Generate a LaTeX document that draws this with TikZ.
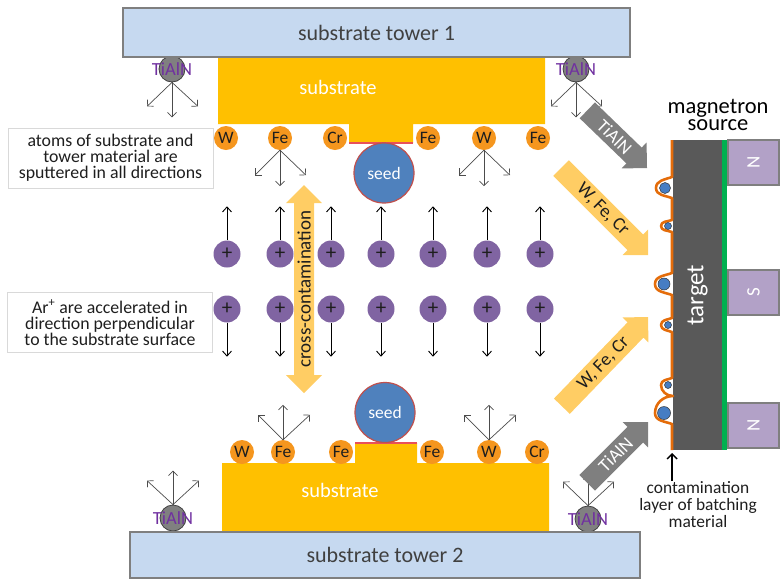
\documentclass[tikz,border=0pt]{standalone}
\usepackage{fontspec}
\setmainfont{Carlito}
\usetikzlibrary{arrows.meta}

\definecolor{towerfill}{RGB}{198,217,240}
\definecolor{towerline}{RGB}{127,127,127}
\definecolor{txtgray}{RGB}{64,64,64}
\definecolor{txt}{RGB}{30,30,30}
\definecolor{subst}{RGB}{255,192,0}
\definecolor{atomc}{RGB}{245,150,30}
\definecolor{ionc}{RGB}{128,100,162}
\definecolor{seedc}{RGB}{79,129,189}
\definecolor{seedline}{RGB}{192,80,77}
\definecolor{interface}{RGB}{232,80,90}
\definecolor{tialnc}{RGB}{128,128,128}
\definecolor{tialntext}{RGB}{112,48,160}
\definecolor{fluxc}{RGB}{255,205,100}
\definecolor{grayflux}{RGB}{127,127,127}
\definecolor{targetc}{RGB}{89,89,89}
\definecolor{backplate}{RGB}{0,176,80}
\definecolor{contc}{RGB}{228,108,10}
\definecolor{magnetc}{RGB}{178,161,199}
\definecolor{blobc}{RGB}{70,125,195}

\newcommand\fsz[2]{\fontsize{#1}{#2}\selectfont}

\begin{document}
\begin{tikzpicture}[x=1pt,y=-1pt,
  tower/.style={draw=towerline,line width=2pt,fill=towerfill,text=txtgray,font=\fsz{22}{24}},
  atom/.style={circle,fill=atomc,minimum size=24pt,inner sep=0pt,text=txt,font=\fsz{17.5}{17}},
  ion/.style={circle,fill=ionc,minimum size=27pt,inner sep=0pt,text=txt,font=\fsz{21}{21}},
  seed/.style={circle,fill=seedc,draw=seedline,line width=1.2pt,minimum size=60pt,inner sep=0pt,text=white,font=\fsz{17.5}{17}},
  tialn/.style={circle,fill=tialnc,draw=black!75,line width=0.8pt,minimum size=26pt,inner sep=0pt},
  tialnlabel/.style={text=tialntext,font=\fsz{18.5}{18},inner sep=0pt},
  spray/.style={draw=black!70,line width=0.7pt,-{Straight Barb[length=4.5pt,width=9pt]}},
  iondrift/.style={draw=black,line width=0.9pt,-{Straight Barb[length=5pt,width=9pt]}},
  infobox/.style={draw=black!15,line width=1pt,fill=white,minimum width=205pt,minimum height=60pt,align=center,inner sep=2pt,text=txt,font=\fsz{17.8}{16}},
  magnet/.style={rotate=90,fill=magnetc,draw=towerline,line width=2pt,minimum width=45pt,minimum height=51pt,inner sep=0pt,text=white,font=\fsz{19}{19}},
  fluxlabel/.style={text=txt,font=\fsz{18.5}{18},inner sep=0pt},
  blob/.style={circle,fill=blobc,draw=black!80,line width=0.5pt,inner sep=0pt},
]
\useasboundingbox (0,0) rectangle (783,582);

% ---------- TiAlN batching particles on the towers (behind the towers)
\node[tialn] (tA) at (172,69) {};
\node[tialn] (tB) at (576,69) {};
\node[tialn] (tC) at (173,518) {};
\node[tialn] (tD) at (588,519) {};

% ---------- substrates
\fill[subst] (218,57) -- (545,57) -- (545,124) -- (413,124) -- (413,143)
  -- (349,143) -- (349,124) -- (218,124) -- cycle;
\fill[subst] (222,463) -- (355,463) -- (355,443) -- (417,443) -- (417,463)
  -- (549,463) -- (549,532) -- (222,532) -- cycle;
\draw[interface,line width=2.5pt] (349,143) -- (413,143);
\draw[interface,line width=2.5pt] (355,443) -- (417,443);
\node[text=white,font=\fsz{20.5}{20}] (subA) at (338,87) {substrate};
\node[text=white,font=\fsz{20.5}{20}] (subB) at (340,490) {substrate};

% ---------- substrate towers
\node[tower,minimum width=507pt,minimum height=49pt] (towerA) at (376.5,32.5) {substrate tower 1};
\node[tower,minimum width=510pt,minimum height=46pt] (towerB) at (385,555) {substrate tower 2};

% TiAlN labels
\foreach \t in {tA,tB,tC,tD}
  \node[tialnlabel] (\t-lbl) at (\t) {TiAlN};

% sputtering from the tower particles
\draw[spray] (tA.south) -- ++(-25,24);
\draw[spray] (tA.south) -- ++(0,35);
\draw[spray] (tA.south) -- ++(26,24);
\draw[spray] (tB.south) -- ++(-25,24);
\draw[spray] (tB.south) -- ++(0,35);
\draw[spray] (tB.south) -- ++(26,24);
\draw[spray] (tC.north) -- ++(-26,-24);
\draw[spray] (tC.north) -- ++(0,-34);
\draw[spray] (tC.north) -- ++(26,-24);
\draw[spray] (tD.north) -- ++(-25,-24);
\draw[spray] (tD.north) -- ++(0,-31);
\draw[spray] (tD.north) -- ++(26,-24);

% ---------- seeds
\node[seed] (seedA) at (384,173) {seed};
\node[seed] (seedB) at (385,412.5) {seed};

% ---------- sputtered atoms, upper substrate
\node[atom] (a1) at (226,138) {W};
\node[atom] (a2) at (280,138) {Fe};
\node[atom] (a3) at (335,138) {Cr};
\node[atom] (a4) at (428,138) {Fe};
\node[atom] (a5) at (484,138) {W};
\node[atom] (a6) at (538,138) {Fe};
% lower substrate
\node[atom] (b1) at (242,452) {W};
\node[atom] (b2) at (283,452) {Fe};
\node[atom] (b3) at (341,452) {Fe};
\node[atom] (b4) at (432,452) {Fe};
\node[atom] (b5) at (489,452) {W};
\node[atom] (b6) at (537,452) {Cr};

\foreach \a in {a2,a5}{
  \draw[spray] (\a.south) -- ++(-25,25);
  \draw[spray] (\a.south) -- ++(0,36);
  \draw[spray] (\a.south) -- ++(26,25);
}
\foreach \a in {b2,b5}{
  \draw[spray] (\a.north) -- ++(-25,-25);
  \draw[spray] (\a.north) -- ++(0,-35);
  \draw[spray] (\a.north) -- ++(27,-25);
}

% ---------- cross-contamination double arrow
\fill[fluxc] (304,185) -- (322,203) -- (314,203) -- (314,375) -- (322,375)
  -- (304,393) -- (286,375) -- (294,375) -- (294,203) -- (286,203) -- cycle;
\node[rotate=90,text=txt,font=\fsz{19}{19},inner sep=0pt] (cross) at (304,289) {cross-contamination};

% ---------- Ar+ ions
\foreach \x [count=\i] in {227,280,331,381,433,487,540}{
  \node[ion] (up\i) at (\x,254) {+};
  \node[ion] (dn\i) at (\x,309) {+};
  \draw[iondrift] (up\i.north) -- ++(0,-34);
  \draw[iondrift] (dn\i.south) -- ++(0,34);
}

% ---------- explanatory boxes
\node[infobox] (boxA) at (110.5,158) {atoms of substrate and\\tower material are\\sputtered in all directions};
\node[infobox] (boxB) at (110,322.5) {Ar\textsuperscript{+} are accelerated in\\direction perpendicular\\to the substrate surface};

% ---------- particle fluxes towards the target
\begin{scope}[shift={(647,168)},rotate=-44]
  \fill[grayflux] (-83,-11) -- (-18,-11) -- (-18,-18) -- (0,0) -- (-18,18) -- (-18,11) -- (-83,11) -- cycle;
  \node[rotate=-44,text=white,font=\fsz{18.5}{18},inner sep=0pt] (fluxA) at (-45,0) {TiAlN};
\end{scope}
\begin{scope}[shift={(648,255)},rotate=-45]
  \fill[fluxc] (-123,-11) -- (-18,-11) -- (-18,-18) -- (0,0) -- (-18,18) -- (-18,11) -- (-123,11) -- cycle;
  \node[fluxlabel,rotate=-45] (fluxB) at (-64,0) {W, Fe, Cr};
\end{scope}
\begin{scope}[shift={(648,317)},rotate=46]
  \fill[fluxc] (-124,-11) -- (-18,-11) -- (-18,-18) -- (0,0) -- (-18,18) -- (-18,11) -- (-124,11) -- cycle;
  \node[fluxlabel,rotate=46] (fluxC) at (-64,0) {W, Fe, Cr};
\end{scope}
\begin{scope}[shift={(648,422)},rotate=45]
  \fill[grayflux] (-86,-11) -- (-18,-11) -- (-18,-18) -- (0,0) -- (-18,18) -- (-18,11) -- (-86,11) -- cycle;
  \node[rotate=45,text=white,font=\fsz{18.5}{18},inner sep=0pt] (fluxD) at (-46,0) {TiAlN};
\end{scope}

% ---------- magnetron source
\node[rotate=90,fill=targetc,minimum width=310pt,minimum height=49pt,inner sep=0pt,
      text=white,font=\fsz{25}{25}] (target) at (697.5,295) {target};
\fill[backplate] (722,140) rectangle (727,450);
\node[magnet] (magN1) at (753.5,162.5) {N};
\node[magnet] (magS) at (753.5,292.5) {S};
\node[magnet] (magN2) at (753.5,425) {N};
\node[align=center,text=black,font=\fsz{22.5}{17}] (srcA) at (718,115) {magnetron\\source};

% contamination layer on the target face
\draw[contc,line width=2.6pt,line join=round]
  (672,140) -- (672,177) to[out=200,in=90] (656,188) to[out=-90,in=160] (672,198)
  -- (672,220) to[out=200,in=90] (661,226) to[out=-90,in=160] (672,232)
  -- (672,273) to[out=200,in=90] (655,284) to[out=-90,in=160] (672,295)
  -- (672,318) to[out=200,in=90] (661,325) to[out=-90,in=160] (672,332)
  -- (672,378) to[out=200,in=90] (661,385) to[out=-90,in=180] (673,396)
  to[out=180,in=90] (655,413) to[out=-90,in=160] (672,424) -- (672,450);
\node[blob,minimum size=11pt] (blob1) at (665,188) {};
\node[blob,minimum size=7pt] (blob2) at (668,226) {};
\node[blob,minimum size=12pt] (blob3) at (664,284) {};
\node[blob,minimum size=7pt] (blob4) at (668,325) {};
\node[blob,minimum size=7pt] (blob5) at (668,385) {};
\node[blob,minimum size=13pt] (blob6) at (664,413) {};

\coordinate (ctip) at (672,453);
\coordinate (ctail) at (672,481);
\draw[black,line width=1.4pt,-{Straight Barb[length=5pt,width=10pt]}] (ctail) -- (ctip);
\node[align=center,text=txt,font=\fsz{17.4}{17}] (contlbl) at (698,505) {contamination\\layer of batching\\material};

\end{tikzpicture}
\end{document}
